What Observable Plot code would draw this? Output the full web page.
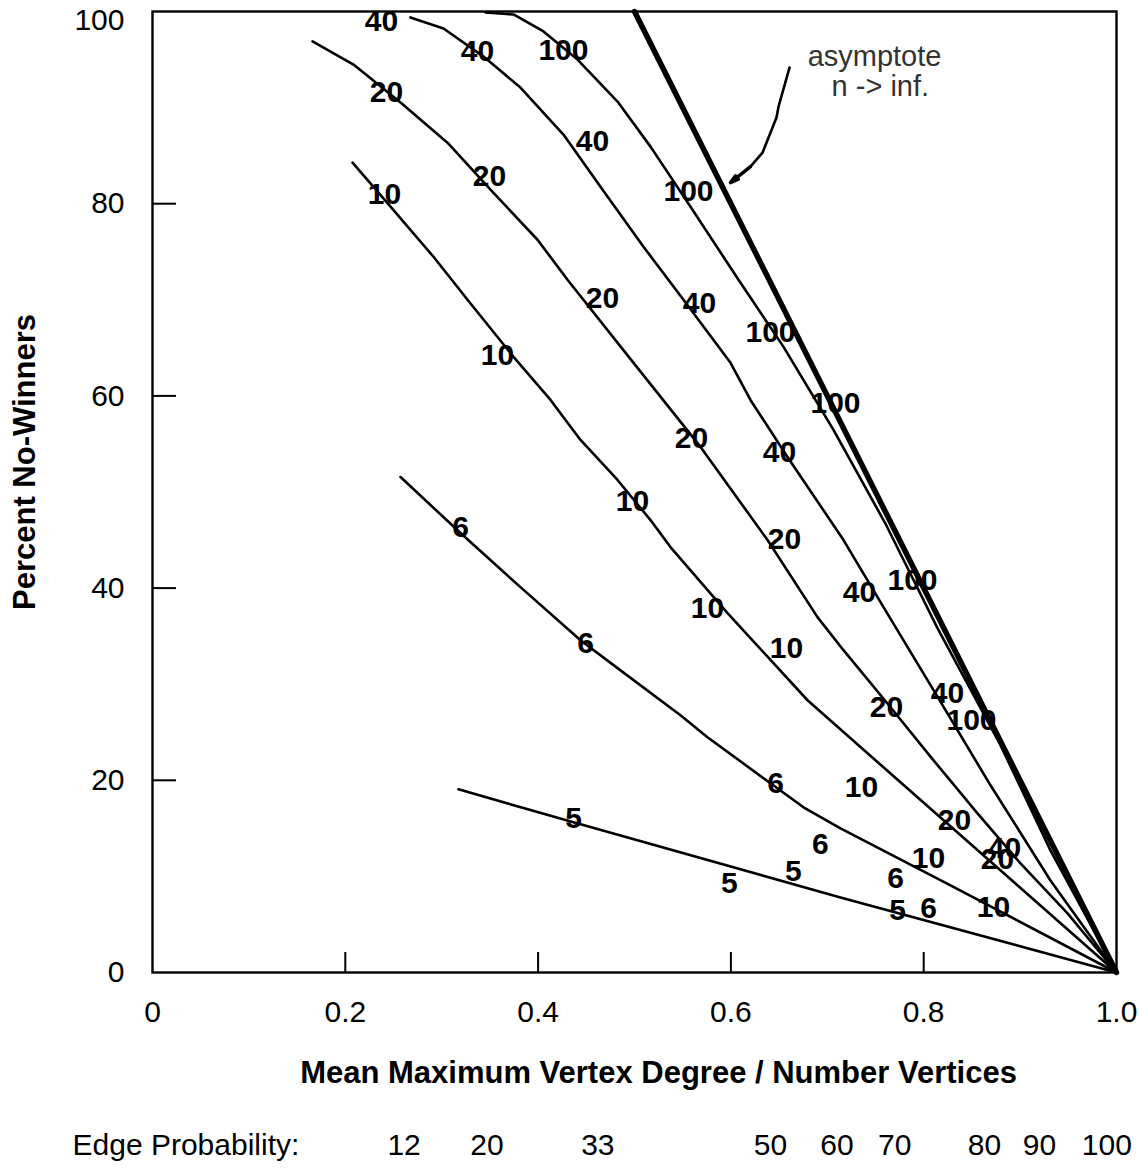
<!DOCTYPE html>
<html><head><meta charset="utf-8">
<script src="https://cdn.jsdelivr.net/npm/d3@7"></script>
<script src="https://cdn.jsdelivr.net/npm/@observablehq/plot@0.6"></script>
<style>html,body{margin:0;padding:0;background:#fff;}</style>
</head><body><div id="chart"></div>
<script>
// ---- curve data (x = mean max vertex degree / n, y = percent no-winners) ----
const n100X = [0.3454,0.3745,0.4056,0.4409,0.4824,0.5166,0.5581,0.6079,0.6546,0.7064,0.7600,0.8143,0.8797,0.9315,1.0];
const n100Y = [99.9,99.69,97.92,95.0,90.63,85.94,79.69,72.08,65.1,56.46,46.77,35.83,23.65,12.71,0];
const n40X = [0.2676,0.3019,0.3434,0.3817,0.4263,0.4647,0.5093,0.5508,0.5996,0.6203,0.6587,0.7168,0.7583,0.8102,0.8693,0.9315,1.0];
const n40Y = [99.38,98.23,95.31,92.08,87.19,81.77,75.52,70.0,63.44,59.58,53.65,45.0,38.02,29.38,19.48,9.58,0];
const n20X = [0.166,0.2085,0.2573,0.306,0.3506,0.3994,0.4305,0.499,0.5685,0.638,0.6898,0.7168,0.7656,0.8102,0.8558,0.9004,0.9492,1.0];
const n20Y = [96.88,94.48,90.52,86.35,81.46,76.25,72.08,63.44,54.69,45.0,36.98,33.54,27.6,22.08,16.56,11.35,6.15,0];
const n10X = [0.2075,0.2469,0.2915,0.3268,0.3745,0.4129,0.444,0.4824,0.5166,0.5373,0.5965,0.6795,0.7759,1.0];
const n10Y = [84.27,79.69,74.48,70.0,64.06,59.58,55.42,51.25,47.08,44.27,37.4,28.33,19.79,0];
const n6X = [0.2573,0.3195,0.3817,0.444,0.4824,0.5477,0.5757,0.6411,0.6753,0.7137,0.8278,1.0];
const n6Y = [51.56,45.73,40.1,34.58,31.67,26.77,24.48,19.69,17.19,15.0,9.06,0];
const n5X = [0.3174,0.4367,0.7137,1.0];
const n5Y = [19.06,15.63,7.81,0];
const asymptoteX = [0.5, 1.0];
const asymptoteY = [100, 0];

// ---- point labels (number of vertices) ----
const labelText = ["40","40","100","20","40","20","10","100","20","40","100","10","100","20","40","10","6","20","40","100","10","10","6","20","40","100","6","10","20","5","6","40","20","10","5","5","6","6","5","10"];
const labelX = [0.2376,0.3371,0.4263,0.2427,0.4564,0.3496,0.2407,0.556,0.4668,0.5674,0.6411,0.3579,0.7085,0.5591,0.6504,0.4979,0.3195,0.6556,0.7334,0.7884,0.5757,0.6577,0.4492,0.7614,0.8247,0.8496,0.6463,0.7355,0.832,0.4367,0.6929,0.8838,0.8766,0.805,0.5985,0.6649,0.7708,0.805,0.7728,0.8724];
const labelY = [98.96,95.83,95.94,91.56,86.46,82.81,80.94,81.25,70.1,69.58,66.56,64.17,59.27,55.63,54.17,49.06,46.35,45.1,39.58,40.83,37.92,33.75,34.27,27.6,29.06,26.25,19.69,19.27,15.83,16.04,13.33,12.92,11.77,11.88,9.27,10.52,9.79,6.67,6.46,6.77];

// ---- annotation ----
const annoText = ["asymptote", "n -> inf."];
const annoX = [0.749, 0.755];
const annoY = [95.3, 92.2];
const pointerX = [0.6608,0.6494,0.6473,0.6328,0.6203];
const pointerY = [94.17,90.1,88.96,85.31,83.85];
const pointerTipX = 0.5996, pointerTipY = 82.19;

// ---- axes ----
const xTicks = [0, 0.2, 0.4, 0.6, 0.8, 1.0];
const yTicks = [0, 20, 40, 60, 80];
const yTopTick = [100];
const xInner = [0.2, 0.4, 0.6, 0.8];
const yInner = [20, 40, 60, 80];
const xLabel = "Mean Maximum Vertex Degree / Number Vertices";
const yLabel = "Percent No-Winners";
const edgeProbLabel = "Edge Probability:";
const edgeProbValues = ["12","20","33","50","60","70","80","90","100"];
const edgeProbX = [0.261,0.347,0.462,0.641,0.710,0.770,0.863,0.920,0.990];

// ---- build tables ----
const curves = [["100",n100X,n100Y],["40",n40X,n40Y],["20",n20X,n20Y],["10",n10X,n10Y],["6",n6X,n6Y],["5",n5X,n5Y]];
const curveRows = curves.flatMap(([n, xs, ys]) => xs.map((x, i) => ({n, x, y: ys[i]})));
const asymRows = asymptoteX.map((x, i) => ({x, y: asymptoteY[i]}));
const labelRows = labelText.map((t, i) => ({t, x: labelX[i], y: labelY[i]}));
const annoRows = annoText.map((t, i) => ({t, x: annoX[i], y: annoY[i]}));
const pointerRows = pointerX.map((x, i) => ({x, y: pointerY[i]}));
const arrowRows = [{x1: pointerX[pointerX.length-1], y1: pointerY[pointerY.length-1], x2: pointerTipX, y2: pointerTipY}];
const edgeRows = edgeProbValues.map((t, i) => ({t, x: edgeProbX[i]}));

const W = 1139, H = 1169, mL = 152, mR = 23, mT = 11, mB = 197;
const plotW = W - mL - mR, plotH = H - mT - mB;
const FONT = "'Liberation Sans', Arial, Helvetica, sans-serif";

const chart = Plot.plot({
  width: W, height: H,
  marginLeft: mL, marginRight: mR, marginTop: mT, marginBottom: mB,
  style: {fontFamily: FONT, fontSize: "30px", background: "#fff", color: "#000", overflow: "visible"},
  x: {domain: [0, 1]},
  y: {domain: [0, 100]},
  marks: [
    Plot.frame({stroke: "#000", strokeWidth: 2.4}),
    Plot.tickX(xInner, {x: d => d, insetTop: plotH - 20, stroke: "#000", strokeWidth: 2}),
    Plot.tickY(yInner, {y: d => d, insetRight: plotW - 24, stroke: "#000", strokeWidth: 2}),
    Plot.axisX({ticks: xTicks, tickSize: 0, tickPadding: 28, fontSize: 30, label: null,
      tickFormat: d => d === 0 ? "0" : d.toFixed(1)}),
    Plot.axisY({ticks: yTicks, tickSize: 0, tickPadding: 28, fontSize: 30, label: null}),
    Plot.axisY({ticks: yTopTick, tickSize: 0, tickPadding: 28, fontSize: 30, label: null, dy: 9}),
    Plot.line(curveRows, {x: "x", y: "y", z: "n", stroke: "#000", strokeWidth: 2.6}),
    Plot.line(asymRows, {x: "x", y: "y", stroke: "#000", strokeWidth: 5.5}),
    Plot.text(labelRows, {x: "x", y: "y", text: "t", fontWeight: "bold", fontSize: 30, fill: "#000"}),
    Plot.text(annoRows, {x: "x", y: "y", text: "t", fontSize: 29, fill: "#333"}),
    Plot.line(pointerRows, {x: "x", y: "y", stroke: "#000", strokeWidth: 2.6}),
    Plot.arrow(arrowRows, {x1: "x1", y1: "y1", x2: "x2", y2: "y2", stroke: "#000", strokeWidth: 3.5, headLength: 20, headAngle: 30}),
    Plot.text([xLabel], {frameAnchor: "bottom", dx: 24, dy: 110, fontWeight: "bold", fontSize: 31, fill: "#000"}),
    Plot.text([yLabel], {frameAnchor: "left", textAnchor: "middle", lineAnchor: "middle", dx: -127, dy: -30, rotate: -90, fontWeight: "bold", fontSize: 31, fill: "#000"}),
    Plot.text([edgeProbLabel], {frameAnchor: "bottom-left", dx: -80, dy: 182, textAnchor: "start", fontSize: 30, fill: "#000"}),
    Plot.text(edgeRows, {x: "x", text: "t", frameAnchor: "bottom", dy: 182, fontSize: 30, fill: "#000"})
  ]
});
document.getElementById("chart").appendChild(chart);
</script>
</body></html>
